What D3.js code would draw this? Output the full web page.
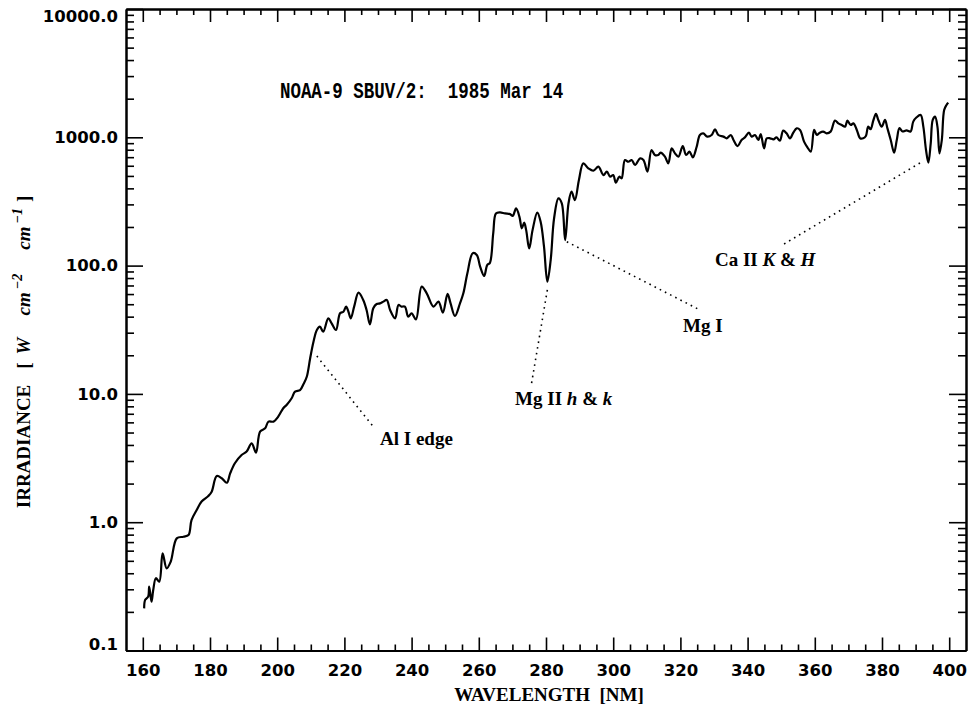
<!DOCTYPE html>
<html>
<head>
<meta charset="utf-8">
<script src="https://cdn.jsdelivr.net/npm/d3@7"></script>
<style>
  body { margin: 0; background: #fff; }
  svg { display: block; background: #fff; }
</style>
</head>
<body>
<svg id="chart" width="972" height="709"></svg>
<script>
// Solar spectral irradiance, NOAA-9 SBUV/2, 1985 Mar 14
const wavelength = [
  160.4, 160.7, 161.6, 161.9, 162.6, 163.1, 163.9, 164.9, 165.9, 167.1,
  168.3, 170.1, 172.1, 173.6, 174.5, 176.0, 177.5, 179.5, 180.5, 182.0,
  183.5, 185.0, 186.0, 187.4, 189.4, 190.9, 192.4, 193.7, 194.9, 196.4,
  197.4, 198.9, 200.3, 201.8, 202.8, 204.3, 205.3, 206.8, 207.8, 208.8,
  209.8, 210.8, 211.8, 212.7, 213.7, 215.2, 216.2, 217.5, 218.7, 219.7,
  220.5, 221.2, 221.9, 222.9, 224.2, 225.6, 226.6, 227.6, 228.6, 229.6,
  230.6, 231.6, 232.6, 233.6, 235.1, 236.1, 237.0, 238.0, 239.0, 240.0,
  241.3, 243.0, 244.5, 246.5, 248.0, 249.3, 250.7, 251.6, 252.9, 254.4,
  255.4, 256.6, 258.2, 259.4, 260.4, 261.6, 262.5, 263.3, 264.3, 265.1,
  266.3, 267.8, 269.3, 270.1, 271.1, 272.1, 272.8, 273.5, 274.1, 275.0,
  276.0, 277.4, 278.4, 279.4, 280.4, 281.4, 282.4, 283.7, 284.7, 285.7,
  286.7, 287.6, 288.6, 289.8, 291.1, 292.6, 294.1, 295.6, 297.1, 298.1,
  299.1, 300.0, 300.8, 301.8, 302.5, 303.5, 304.5, 305.5, 306.5, 308.0,
  309.0, 310.2, 311.4, 312.4, 313.4, 314.1, 315.4, 316.4, 317.4, 318.4,
  319.4, 320.7, 321.7, 322.7, 323.7, 324.8, 325.8, 326.8, 328.0, 329.3,
  330.3, 331.3, 332.8, 333.8, 335.0, 335.8, 337.0, 338.2, 339.2, 340.4,
  341.2, 342.2, 343.2, 343.9, 344.9, 345.7, 346.7, 347.7, 348.6, 349.6,
  350.6, 351.6, 352.6, 353.6, 354.6, 355.6, 356.8, 357.8, 358.8, 359.8,
  360.6, 361.5, 362.5, 363.5, 364.7, 366.0, 367.0, 368.0, 369.0, 369.7,
  370.7, 371.5, 372.5, 373.5, 374.4, 375.2, 375.9, 376.6, 377.4, 378.2,
  378.9, 379.9, 380.9, 381.6, 382.6, 383.6, 384.4, 385.2, 386.1, 387.3,
  388.5, 389.3, 390.3, 391.5, 392.3, 393.1, 393.8, 394.5, 395.1, 395.8,
  396.5, 397.1, 397.8, 398.5, 399.2, 399.7
];
const irradiance = [
  0.213, 0.248, 0.263, 0.315, 0.240, 0.296, 0.366, 0.344, 0.572, 0.437,
  0.492, 0.748, 0.771, 0.794, 1.04, 1.24, 1.45, 1.60, 1.73, 2.29,
  2.20, 2.03, 2.40, 2.88, 3.34, 3.55, 4.12, 3.48, 5.08, 5.39,
  6.08, 6.08, 6.65, 7.73, 8.20, 9.25, 10.4, 10.7, 11.9, 13.6,
  18.9, 25.5, 31.5, 33.4, 30.5, 38.8, 35.5, 31.5, 42.5, 43.7,
  47.9, 43.7, 38.8, 47.9, 61.5, 54.0, 45.1, 34.8, 46.5, 50.2,
  50.8, 52.4, 54.0, 45.1, 38.8, 49.3, 47.9, 47.9, 40.0, 42.5,
  38.1, 68.6, 60.8, 47.9, 52.4, 43.0, 60.1, 50.8, 40.5, 50.8,
  60.8, 87.1, 125, 121, 98.1, 83.0, 101, 105, 179, 255,
  260, 255, 252, 244, 279, 240, 195, 216, 189, 136,
  189, 259, 220, 141, 75.0, 111, 233, 334, 306, 158,
  306, 377, 324, 465, 626, 573, 549, 590, 508, 540,
  493, 508, 443, 493, 479, 665, 645, 665, 608, 685,
  665, 540, 796, 728, 728, 759, 706, 627, 820, 750,
  706, 855, 728, 773, 698, 836, 1042, 1074, 1012, 1042,
  1153, 1042, 1012, 982, 1042, 953, 855, 953, 998, 1087,
  1012, 1042, 953, 1061, 820, 982, 982, 964, 998, 942,
  1127, 1074, 982, 1087, 1175, 1141, 925, 836, 773, 1141,
  1042, 1087, 1107, 1074, 1107, 1348, 1285, 1247, 1211, 1348,
  1247, 1285, 1141, 982, 982, 1024, 1211, 1155, 1348, 1520,
  1365, 1211, 1365, 1178, 953, 759, 953, 1178, 1110, 1131,
  1110, 1325, 1432, 1494, 1211, 796, 634, 897, 1365, 1449,
  1211, 750, 953, 1633, 1786, 1862
];

const xMajorTicks = [160, 180, 200, 220, 240, 260, 280, 300, 320, 340, 360, 380, 400];
const xMinorTicks = d3.range(160, 401, 5).filter(v => v % 20 !== 0);
const yMajorTicks = [0.1, 1, 10, 100, 1000, 10000];
const yMinorTicks = [0.1, 1, 10, 100, 1000].flatMap(d => d3.range(2, 10).map(m => +(d * m).toPrecision(3)));

const titleText = "NOAA-9 SBUV/2:  1985 Mar 14";
const xTitle = "WAVELENGTH  [NM]";

// Spectral-line annotations: dotted leader from a feature to its label (data coordinates)
const annotations = [
  { parts: [["Al I edge", false]],                         from: [211.8, 19.7], to: [228.6, 5.55], label: [230.6, 4.0] },
  { parts: [["Mg II ", false], ["h", true], [" & ", false], ["k", true]], from: [280.4, 64.6], to: [275.7, 12.1], label: [270.8, 8.18] },
  { parts: [["Mg I", false]],                              from: [286.2, 153.5], to: [325.8, 45.1], label: [320.8, 30.3] },
  { parts: [["Ca II ", false], ["K", true], [" & ", false], ["H", true]], from: [391.3, 631], to: [350.4, 145], label: [330.3, 99.3] }
];

const plot = { left: 126, right: 966, top: 9, bottom: 650.5 };

const svg = d3.select("#chart");

const x = d3.scaleLinear().domain([155, 405]).range([plot.left, plot.right]);
const y = d3.scaleLog().domain([0.1, 10000]).range([plot.bottom, plot.top]);

const tickFont = "'DejaVu Sans', sans-serif";
const serifFont = "'Liberation Serif', 'Times New Roman', serif";

function styleAxis(g) {
  g.selectAll("path.domain").attr("stroke", "#000").attr("stroke-width", 2);
  g.selectAll(".tick line").attr("stroke", "#000").attr("stroke-width", 1.6);
  g.selectAll(".tick text")
    .attr("fill", "#000")
    .attr("font-family", tickFont)
    .attr("font-weight", "bold")
    .attr("font-size", 16.5);
}

// bottom axis: labelled major ticks and minor ticks, all pointing inward
svg.append("g").attr("transform", `translate(0,${plot.bottom})`)
  .call(d3.axisBottom(x).tickValues(xMajorTicks).tickSize(-13).tickSizeOuter(0).tickPadding(14).tickFormat(d3.format("d")))
  .call(styleAxis);
svg.append("g").attr("transform", `translate(0,${plot.bottom})`)
  .call(d3.axisBottom(x).tickValues(xMinorTicks).tickSize(-6).tickSizeOuter(0).tickFormat(""))
  .call(styleAxis);

// top axis
svg.append("g").attr("transform", `translate(0,${plot.top})`)
  .call(d3.axisTop(x).tickValues(xMajorTicks).tickSize(-13).tickSizeOuter(0).tickFormat(""))
  .call(styleAxis);
svg.append("g").attr("transform", `translate(0,${plot.top})`)
  .call(d3.axisTop(x).tickValues(xMinorTicks).tickSize(-6).tickSizeOuter(0).tickFormat(""))
  .call(styleAxis);

// left axis (log decades)
const leftAxis = svg.append("g").attr("transform", `translate(${plot.left},0)`)
  .call(d3.axisLeft(y).tickValues(yMajorTicks).tickSize(-17).tickSizeOuter(0).tickPadding(8).tickFormat(d3.format(".1f")))
  .call(styleAxis);
svg.append("g").attr("transform", `translate(${plot.left},0)`)
  .call(d3.axisLeft(y).tickValues(yMinorTicks).tickSize(-8).tickSizeOuter(0).tickFormat(""))
  .call(styleAxis);

// keep the end labels inside the frame height
leftAxis.selectAll(".tick text").attr("dy", d => d === 10000 ? "0.78em" : d === 0.1 ? "-0.05em" : "0.32em");

// right axis
svg.append("g").attr("transform", `translate(${plot.right},0)`)
  .call(d3.axisRight(y).tickValues(yMajorTicks).tickSize(-17).tickSizeOuter(0).tickFormat(""))
  .call(styleAxis);
svg.append("g").attr("transform", `translate(${plot.right},0)`)
  .call(d3.axisRight(y).tickValues(yMinorTicks).tickSize(-8).tickSizeOuter(0).tickFormat(""))
  .call(styleAxis);

// spectrum
const line = d3.line()
  .x((d, i) => x(wavelength[i]))
  .y((d, i) => y(irradiance[i]))
  .curve(d3.curveCatmullRom.alpha(0.5));

svg.append("path")
  .datum(irradiance)
  .attr("d", line)
  .attr("fill", "none")
  .attr("stroke", "#000")
  .attr("stroke-width", 2.2)
  .attr("stroke-linejoin", "round");

// annotations
annotations.forEach(a => {
  svg.append("line")
    .attr("x1", x(a.from[0])).attr("y1", y(a.from[1]))
    .attr("x2", x(a.to[0])).attr("y2", y(a.to[1]))
    .attr("stroke", "#000").attr("stroke-width", 1.6)
    .attr("stroke-dasharray", "1.6,4.2");
  const t = svg.append("text")
    .attr("x", x(a.label[0])).attr("y", y(a.label[1]))
    .attr("font-family", serifFont).attr("font-weight", "bold").attr("font-size", 19)
    .attr("fill", "#000").style("white-space", "pre");
  a.parts.forEach(([s, it]) => {
    t.append("tspan").text(s).attr("font-style", it ? "italic" : "normal");
  });
});

// title
svg.append("text")
  .attr("transform", `translate(${x(200.8)},${y(2023)}) scale(1,1.25)`)
  .attr("font-family", "'Liberation Mono', 'Courier New', monospace")
  .attr("font-weight", "bold").attr("font-size", 17.5)
  .attr("fill", "#000").style("white-space", "pre")
  .text(titleText);

// x-axis title
svg.append("text")
  .attr("x", (plot.left + plot.right) / 2 + 3).attr("y", 701)
  .attr("text-anchor", "middle")
  .attr("font-family", serifFont).attr("font-weight", "bold").attr("font-size", 19)
  .attr("fill", "#000").style("white-space", "pre")
  .text(xTitle);

// y-axis title with italic units and superscripts
const yt = svg.append("text")
  .attr("transform", "translate(30,352) rotate(-90)")
  .attr("text-anchor", "middle")
  .attr("font-family", serifFont).attr("font-weight", "bold").attr("font-size", 19)
  .attr("fill", "#000").style("white-space", "pre");
yt.append("tspan").text("IRRADIANCE");
yt.append("tspan").attr("dx", 16).text("[");
yt.append("tspan").attr("dx", 8).attr("font-style", "italic").text("W");
yt.append("tspan").attr("dx", 22).attr("font-style", "italic").text("cm");
yt.append("tspan").attr("dx", 3).attr("dy", -8).attr("font-size", 14).attr("font-style", "italic").text("−2");
yt.append("tspan").attr("dy", 8).attr("dx", 24).attr("font-style", "italic").text("cm");
yt.append("tspan").attr("dx", 3).attr("dy", -8).attr("font-size", 14).attr("font-style", "italic").text("−1");
yt.append("tspan").attr("dy", 8).attr("dx", 6).text("]");
</script>
</body>
</html>
